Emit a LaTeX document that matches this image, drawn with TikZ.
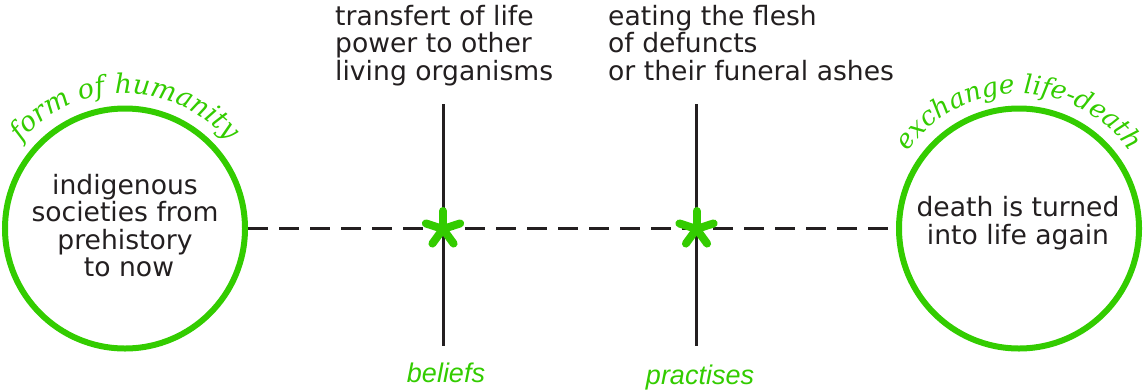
\documentclass[tikz,border=0pt]{standalone}
\usepackage{fontspec}
\setmainfont{DejaVu Sans}
\newfontfamily\labelfont{Liberation Sans}
\newfontfamily\arcfont{DejaVu Serif}
\usetikzlibrary{decorations.text}
\definecolor{leaf}{RGB}{51,204,0}
\definecolor{ink}{RGB}{35,31,32}

\begin{document}
\begin{tikzpicture}[x=1pt,y=-1pt,
  ring/.style={circle, draw=leaf, line width=6pt, minimum size=240pt, inner sep=0pt},
  bodytext/.style={text=ink, font=\fontsize{26.6}{27.5}\selectfont, inner sep=0pt},
  axisline/.style={draw=ink, line width=3pt},
  dashline/.style={draw=ink, line width=3pt, dash pattern=on 20pt off 11pt},
  arm/.style={draw=leaf, line width=8pt, line cap=round},
  tag/.style={text=leaf, font=\labelfont\itshape\fontsize{27}{28}\selectfont, anchor=base}]
  \useasboundingbox (0,0) rectangle (1145,389);

  % circles: form of humanity and exchange life-death
  \node[ring] (hum) at (125,228.5) {};
  \node[ring] (exch) at (1019,228.5) {};
  \node[bodytext, align=center] (humtxt) at (125,225.5)
    {indigenous\\societies from\\prehistory\\\hspace*{8pt}to now};
  \node[bodytext, align=center] (exchtxt) at (1018,223)
    {death is turned\\into life again};

  % curved titles over the circles
  \path[decorate, decoration={text along path, text align=center,
      text={|\arcfont\itshape\fontsize{27}{27}\selectfont\color{leaf}|form of humanity}}]
    (hum.center) ++(175:135pt) arc[start angle=175, end angle=5, radius=135pt];
  \path[decorate, decoration={text along path, text align=center,
      text={|\arcfont\itshape\fontsize{26.2}{26.2}\selectfont\color{leaf}|exchange life-death}}]
    (exch.center) ++(175:135pt) arc[start angle=175, end angle=5, radius=135pt];

  % horizontal axis between the circles
  \draw[dashline] (hum) -- (exch);

  % the two vertical axes
  \coordinate (belTop) at (443,104);
  \coordinate (belBot) at (443,346);
  \coordinate (pracTop) at (696.5,104);
  \coordinate (pracBot) at (696.5,346);
  \coordinate (bel) at (443,229);
  \coordinate (prac) at (696.5,229);
  \draw[axisline] (belTop) -- (belBot);
  \draw[axisline] (pracTop) -- (pracBot);

  % asterisks where the axes cross
  \foreach \c in {bel,prac}
    \foreach \a in {18,90,162,234,306}
      \draw[arm] (\c) -- ++(\a:18pt);

  % notes above the axes
  \node[bodytext, align=left, anchor=north west] (belnote) at (335,5)
    {transfert of life\\power to other\\living organisms};
  \node[bodytext, align=left, anchor=north west] (pracnote) at (608,5)
    {eating the flesh\\of defuncts\\or their funeral ashes};

  % labels below the axes
  \node[tag] (beltag) at (446,382) {beliefs};
  \node[tag] (practag) at (700,384) {practises};
\end{tikzpicture}
\end{document}
